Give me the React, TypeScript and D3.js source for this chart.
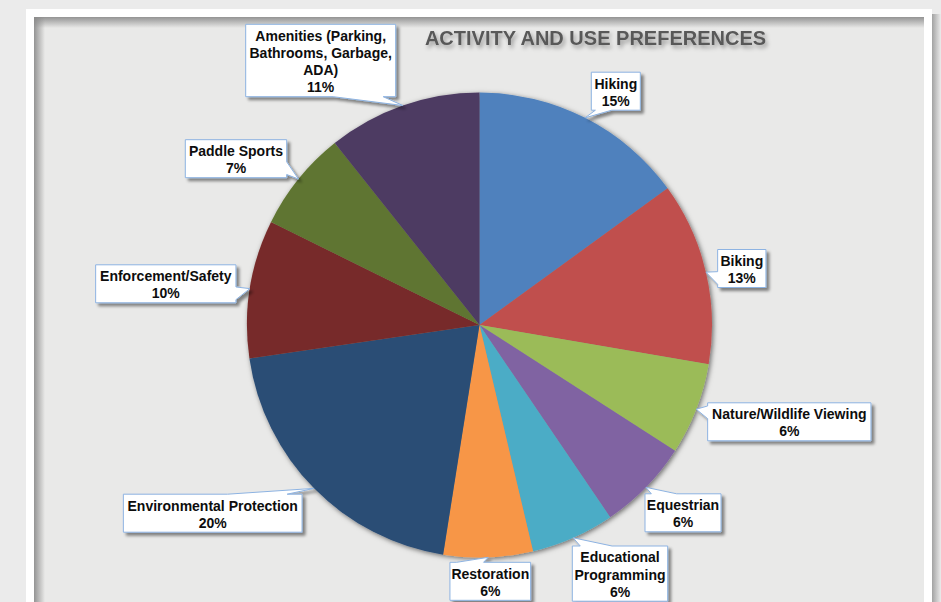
import React from 'react';
import * as d3 from 'd3';

// ---- data ----
const categories = [
  'Hiking',
  'Biking',
  'Nature/Wildlife Viewing',
  'Equestrian',
  'Educational Programming',
  'Restoration',
  'Environmental Protection',
  'Enforcement/Safety',
  'Paddle Sports',
  'Amenities (Parking, Bathrooms, Garbage, ADA)',
];
const shares = [15.0, 12.7, 6.4, 6.4, 5.8, 6.2, 20.2, 9.6, 7.0, 10.7];
const labelLines = [
  ['Hiking'],
  ['Biking'],
  ['Nature/Wildlife Viewing'],
  ['Equestrian'],
  ['Educational', 'Programming'],
  ['Restoration'],
  ['Environmental Protection'],
  ['Enforcement/Safety'],
  ['Paddle Sports'],
  ['Amenities (Parking,', 'Bathrooms, Garbage,', 'ADA)'],
];
const title = 'ACTIVITY AND USE PREFERENCES';

// ---- styles / layout ----
const colors = ['#4f81bd', '#c0504d', '#9bbb59', '#8064a2', '#4bacc6', '#f79646', '#2c4d75', '#772c2a', '#5f7530', '#4d3b62'];
// label callout box centres (x, y) and widths
const labelBoxes = [
  [615.8, 91.2, 49],
  [741.8, 268.5, 48.3],
  [789.3, 421.8, 163.3],
  [683, 512.8, 76],
  [620, 573.6, 95.4],
  [490.3, 581.3, 80.7],
  [212.7, 513.2, 178.7],
  [165.8, 283.8, 140.3],
  [236, 158.7, 101.4],
  [320.7, 60.5, 150],
];

const W = 941;
const H = 602;
const CX = 479.5;
const CY = 325;
const R = 232.5;
const LINE = 17.2;

function calloutPath(x0: number, y0: number, x1: number, y1: number, tx: number, ty: number) {
  const w = x1 - x0;
  const h = y1 - y0;
  const cx = (x0 + x1) / 2;
  const cy = (y0 + y1) / 2;
  const dx = tx - cx;
  const dy = ty - cy;
  const inside = tx >= x0 && tx <= x1 && ty >= y0 && ty <= y1;
  const p: string[] = [];
  if (inside) {
    return `M${x0},${y0}H${x1}V${y1}H${x0}Z`;
  }
  const horiz = Math.abs(dx) / w > Math.abs(dy) / h;
  if (!horiz && dy < 0) {
    // top edge
    const a = dx < 0 ? x0 + w / 12 : x0 + (7 * w) / 12;
    const b = dx < 0 ? x0 + (5 * w) / 12 : x0 + (11 * w) / 12;
    p.push(`M${x0},${y0}H${a}L${tx},${ty}L${b},${y0}H${x1}V${y1}H${x0}Z`);
  } else if (!horiz && dy >= 0) {
    const a = dx < 0 ? x0 + w / 12 : x0 + (7 * w) / 12;
    const b = dx < 0 ? x0 + (5 * w) / 12 : x0 + (11 * w) / 12;
    p.push(`M${x0},${y0}H${x1}V${y1}H${b}L${tx},${ty}L${a},${y1}H${x0}Z`);
  } else if (horiz && dx > 0) {
    const a = dy < 0 ? y0 + h / 12 : y0 + (7 * h) / 12;
    const b = dy < 0 ? y0 + (5 * h) / 12 : y0 + (11 * h) / 12;
    p.push(`M${x0},${y0}H${x1}V${a}L${tx},${ty}L${x1},${b}V${y1}H${x0}Z`);
  } else {
    const a = dy < 0 ? y0 + h / 12 : y0 + (7 * h) / 12;
    const b = dy < 0 ? y0 + (5 * h) / 12 : y0 + (11 * h) / 12;
    p.push(`M${x0},${y0}H${x1}V${y1}H${x0}V${b}L${tx},${ty}L${x0},${a}Z`);
  }
  return p.join('');
}

export default function App() {
  const pie = d3.pie<number>().sort(null).value((d) => d).startAngle(0).endAngle(2 * Math.PI);
  const arcs = pie(shares);
  const arc = d3.arc<d3.PieArcDatum<number>>().innerRadius(0).outerRadius(R);

  const font = "'Liberation Sans', Arial, sans-serif";

  return (
    <svg
      width={W}
      height={H}
      viewBox={`0 0 ${W} ${H}`}
      style={{ position: 'fixed', left: 0, top: 0, display: 'block' }}
    >
      <defs>
        <linearGradient id="shTop" x1="0" y1="0" x2="0" y2="1">
          <stop offset="0" stopColor="#8a8a8a" stopOpacity="0.9" />
          <stop offset="1" stopColor="#8a8a8a" stopOpacity="0" />
        </linearGradient>
        <linearGradient id="shLeft" x1="0" y1="0" x2="1" y2="0">
          <stop offset="0" stopColor="#8a8a8a" stopOpacity="0.9" />
          <stop offset="1" stopColor="#8a8a8a" stopOpacity="0" />
        </linearGradient>
        <linearGradient id="shRight" x1="0" y1="0" x2="1" y2="0">
          <stop offset="0" stopColor="#9a9a9a" stopOpacity="0.9" />
          <stop offset="1" stopColor="#9a9a9a" stopOpacity="0" />
        </linearGradient>
        <filter id="pieShadow" x="-10%" y="-10%" width="120%" height="120%">
          <feDropShadow dx="1.5" dy="1.5" stdDeviation="2.5" floodColor="#000" floodOpacity="0.55" />
        </filter>
        <filter id="boxShadow" x="-20%" y="-30%" width="140%" height="160%">
          <feDropShadow dx="3" dy="3" stdDeviation="1.6" floodColor="#000" floodOpacity="0.45" />
        </filter>
        <filter id="titleShadow" x="-10%" y="-50%" width="120%" height="200%">
          <feDropShadow dx="2" dy="3" stdDeviation="2" floodColor="#000" floodOpacity="0.35" />
        </filter>
      </defs>

      {/* page background */}
      <rect x={0} y={0} width={W} height={H} fill="#ebebeb" />
      {/* outer shadow of frame */}
      <rect x={932} y={14} width={9} height={H} fill="url(#shRight)" />
      {/* white frame */}
      <rect x={26} y={9} width={906} height={H} fill="#ffffff" />
      {/* inner panel */}
      <rect x={34} y={17} width={890} height={H} fill="#e9e9e8" />
      <rect x={34} y={17} width={890} height={11} fill="url(#shTop)" />
      <rect x={34} y={17} width={11} height={H} fill="url(#shLeft)" />

      {/* title */}
      <text
        x={595.5}
        y={44.5}
        textAnchor="middle"
        fontFamily={font}
        fontWeight="bold"
        fontSize={20}
        fill="#595959"
        filter="url(#titleShadow)"
      >
        {title}
      </text>

      {/* pie */}
      <g transform={`translate(${CX},${CY})`} filter="url(#pieShadow)">
        {arcs.map((a, i) => (
          <path key={categories[i]} d={arc(a) || ''} fill={colors[i]} />
        ))}
      </g>

      {/* callout labels */}
      {arcs.map((a, i) => {
        const lines = [...labelLines[i], `${Math.round(shares[i])}%`];
        const [bx, by, bw] = labelBoxes[i];
        const bh = lines.length * LINE + 3.6;
        const x0 = bx - bw / 2;
        const y0 = by - bh / 2;
        const mid = (a.startAngle + a.endAngle) / 2;
        const tx = CX + R * Math.sin(mid);
        const ty = CY - R * Math.cos(mid);
        return (
          <g key={`lab-${i}`}>
            <path
              d={calloutPath(x0, y0, x0 + bw, y0 + bh, tx, ty)}
              fill="#ffffff"
              stroke="#8db3e2"
              strokeWidth={1}
              filter="url(#boxShadow)"
            />
            <text
              textAnchor="middle"
              fontFamily={font}
              fontWeight="bold"
              fontSize={14}
              fill="#0d0d0d"
            >
              {lines.map((l, j) => (
                <tspan key={j} x={bx} y={y0 + 16.4 + j * LINE}>
                  {l}
                </tspan>
              ))}
            </text>
          </g>
        );
      })}
    </svg>
  );
}
